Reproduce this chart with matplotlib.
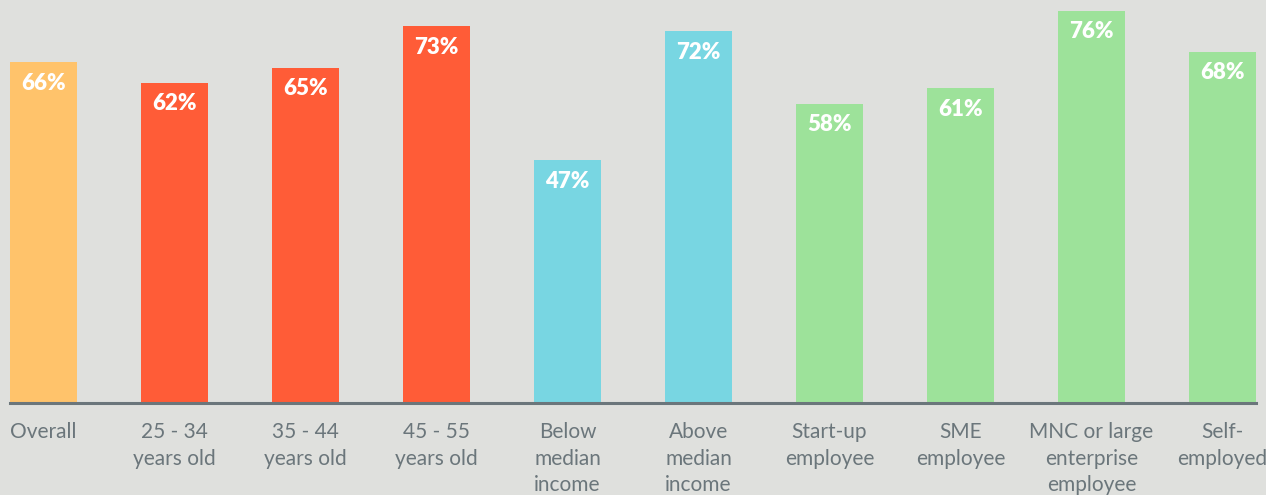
import matplotlib.pyplot as plt

categories = ['Overall', '25 - 34\nyears old', '35 - 44\nyears old', '45 - 55\nyears old',
              'Below\nmedian\nincome', 'Above\nmedian\nincome', 'Start-up\nemployee',
              'SME\nemployee', 'MNC or large\nenterprise\nemployee', 'Self-\nemployed']
values = [66, 62, 65, 73, 47, 72, 58, 61, 76, 68]
groups = ['overall', 'age', 'age', 'age', 'income', 'income', 'work', 'work', 'work', 'work']

group_colors = {'overall': '#FFC36B', 'age': '#FF5C37', 'income': '#78D6E2', 'work': '#9DE29A'}
bg = '#DFE0DD'
grey = '#6B767B'

plt.rcParams['font.family'] = ['Lato', 'DejaVu Sans']

fig = plt.figure(figsize=(12.66, 4.95), dpi=100, facecolor=bg)
ax = fig.add_axes([10 / 1266, 92 / 495, 1246 / 1266, 403 / 495])
ax.set_facecolor(bg)

x = list(range(len(values)))
colors = [group_colors[g] for g in groups]
bars = ax.bar(x, values, width=0.51, color=colors)

for xi, v in zip(x, values):
    ax.annotate(f'{v}%', (xi, v), xytext=(0, -15), textcoords='offset points',
                ha='center', va='center', color='white', fontsize=16, fontweight='heavy')

ax.set_xlim(-0.256, 9.256)
ax.set_ylim(0, 403 / 5.16)

for s in ['top', 'right', 'left']:
    ax.spines[s].set_visible(False)
ax.spines['bottom'].set_color(grey)
ax.spines['bottom'].set_linewidth(2.2)

ax.set_yticks([])
ax.set_xticks(x)
ax.set_xticklabels(categories, color=grey, fontsize=15, linespacing=1.38)
ax.tick_params(axis='x', length=0, pad=14)

fig.savefig('out.png', dpi=100, facecolor=bg)
